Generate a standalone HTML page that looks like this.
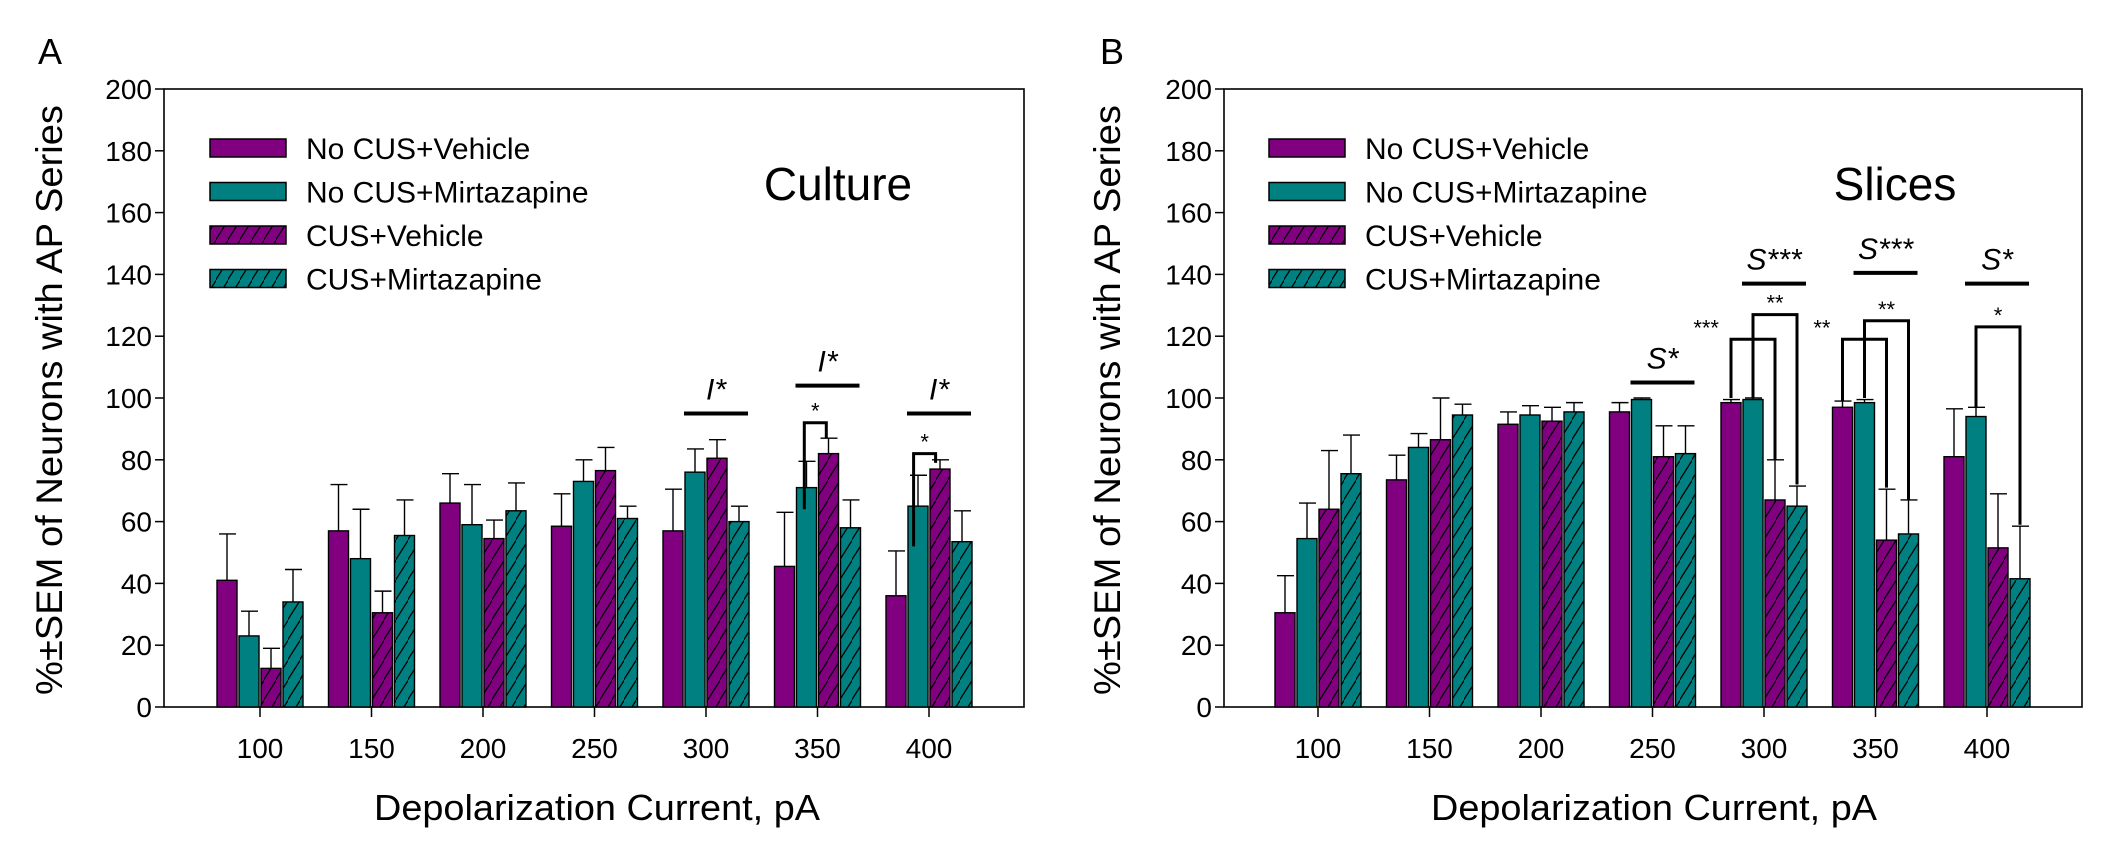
<!DOCTYPE html>
<html><head><meta charset="utf-8"><style>
html,body{margin:0;padding:0;background:#fff;}
svg{display:block;font-family:"Liberation Sans",Arial,sans-serif;}
</style></head><body>
<svg id="fig" width="2102" height="853" viewBox="0 0 2102 853" xmlns="http://www.w3.org/2000/svg">
<defs>
<pattern id="hatchP" patternUnits="userSpaceOnUse" width="12" height="20"><rect width="12" height="20" fill="#800080"/><path d="M-1,21 L13,-1" stroke="#000" stroke-width="1.3"/></pattern>
<pattern id="hatchT" patternUnits="userSpaceOnUse" width="12" height="20"><rect width="12" height="20" fill="#008080"/><path d="M-1,21 L13,-1" stroke="#000" stroke-width="1.3"/></pattern>
</defs>
</svg>
<script>
const categories = [100,150,200,250,300,350,400];
const seriesNames = ["No CUS+Vehicle","No CUS+Mirtazapine","CUS+Vehicle","CUS+Mirtazapine"];
const yTicks = [0,20,40,60,80,100,120,140,160,180,200];
// Panel A (Culture)
const aNoCusVeh = [41,57,66,58.5,57,45.5,36];
const aNoCusVehErr = [15,15,9.5,10.5,13.5,17.5,14.5];
const aNoCusMir = [23,48,59,73,76,71,65];
const aNoCusMirErr = [8,16,13,7,7.5,8.5,10];
const aCusVeh = [12.5,30.5,54.5,76.5,80.5,82,77];
const aCusVehErr = [6.5,7,6,7.5,6,5,3];
const aCusMir = [34,55.5,63.5,61,60,58,53.5];
const aCusMirErr = [10.5,11.5,9,4,5,9,10];
// Panel B (Slices)
const bNoCusVeh = [30.5,73.5,91.5,95.5,98.5,97,81];
const bNoCusVehErr = [12,8,4,3,1,2,15.5];
const bNoCusMir = [54.5,84,94.5,99.5,99.5,98.5,94];
const bNoCusMirErr = [11.5,4.5,3,0.5,0.5,1,3];
const bCusVeh = [64,86.5,92.5,81,67,54,51.5];
const bCusVehErr = [19,13.5,4.5,10,13,16.5,17.5];
const bCusMir = [75.5,94.5,95.5,82,65,56,41.5];
const bCusMirErr = [12.5,3.5,3,9,6.5,11,17];
// annotations: [categoryIndex, leftBar, rightBar, label, lineValue]
const aSigLines = [[4,"I*",95],[5,"I*",104],[6,"I*",95]];
const aBrackets = [[5,0.9,1.9,64,92,87,"*"],[6,0.8,1.8,52,82,79,"*"]];
const bSigLines = [[3,"S*",105],[4,"S***",137],[5,"S***",140.5],[6,"S*",137]];
const bBrackets = [[4,0,2,100,119,80,"***"],[4,1,3,100,127,72,"**"],[5,0,2,99,119,71,"**"],[5,1,3,100,125,67,"**"],[6,1,3,97,123,59,"*"]];

const NS="http://www.w3.org/2000/svg";
const svg=document.getElementById('fig');
function mk(tag,attrs,parent,text){const e=document.createElementNS(NS,tag);for(const k in attrs)e.setAttribute(k,attrs[k]);if(text!==undefined)e.textContent=text;(parent||svg).appendChild(e);return e;}

function panel(cfg){
  const g=mk('g',{});
  
  
  const L=cfg.left,R=cfg.right,T=89,B=707;
  const y=v=>B-(v/200)*(B-T);
  const xc=i=>cfg.x0+i*111.5;
  const bx=(i,k)=>xc(i)+(k-1.5)*22;
  // frame
  const fr=mk('rect',{x:L,y:T,width:R-L,height:B-T,fill:'none',stroke:'#000','stroke-width':1.6},g);
  
  // y ticks
  yTicks.forEach(t=>{
    mk('line',{x1:L-9,x2:L,y1:y(t),y2:y(t),stroke:'#000','stroke-width':1.5},g);
    const tl=mk('text',{x:L-12,y:y(t)+10,'font-size':28,'text-anchor':'end'},g,String(t));
    
  });
  categories.forEach((c,i)=>{
    mk('line',{x1:xc(i),x2:xc(i),y1:B,y2:B+10,stroke:'#000','stroke-width':1.5},g);
    const tl=mk('text',{x:xc(i),y:758,'font-size':28,'text-anchor':'middle'},g,String(c));
    
  });
  const fills=['#800080','#008080','url(#hatchP)','url(#hatchT)'];
  cfg.series.forEach((s,k)=>{
    s.v.forEach((v,i)=>{
      const x=bx(i,k);
      const top=y(v),et=y(v+s.e[i]);
      mk('line',{x1:x,x2:x,y1:top,y2:et,stroke:'#000','stroke-width':1.4},g);
      mk('line',{x1:x-8,x2:x+9,y1:et,y2:et,stroke:'#000','stroke-width':1.4},g);
      const r=mk('rect',{x:x-10,y:top,width:20,height:B-top,fill:fills[k],stroke:'#000','stroke-width':1.4},g);
      
      
    });
  });
  // sig lines
  cfg.sig.forEach(s=>{
    const cx=xc(s[0])+10;
    mk('line',{x1:cx-32,x2:cx+32,y1:y(s[2]),y2:y(s[2]),stroke:'#000','stroke-width':4},g);
    const t=mk('text',{x:cx,y:y(s[2])-14,'font-size':30,'font-style':'italic','text-anchor':'middle'},g,s[1]);
    
  });
  cfg.br.forEach(b=>{
    const x1=bx(b[0],b[1]),x2=bx(b[0],b[2]);
    mk('path',{d:`M${x1},${y(b[3])} L${x1},${y(b[4])} L${x2},${y(b[4])} L${x2},${y(b[5])}`,fill:'none',stroke:'#000','stroke-width':3},g);
    const tx=b[6].length>1?x1-12:(x1+x2)/2;
    const t=mk('text',{x:tx,y:y(b[4])-4,'font-size':22,'text-anchor':b[6].length>1?'end':'middle'},g,b[6]);
    if(b[6].length>1&&b[1]===1){t.setAttribute('x',(x1+x2)/2);t.setAttribute('text-anchor','middle');}
    
  });
  // legend
  seriesNames.forEach((n,k)=>{
    const ly=148+k*43.5;
    const sw=mk('rect',{x:cfg.legX,y:ly-9,width:76,height:18,fill:fills[k],stroke:'#000','stroke-width':1.5},g);
    
    const lt=mk('text',{x:cfg.legX+96,y:ly+11,'font-size':30},g,n);
    
  });
  const ti=mk('text',{x:cfg.titleX,y:200,'font-size':46,'text-anchor':'middle'},g,cfg.title);
  
  const pl=mk('text',{x:cfg.labX,y:64,'font-size':36},g,cfg.lab);
  
  const xt=mk('text',{x:cfg.xtX,y:820,'font-size':36,'text-anchor':'middle',textLength:446,lengthAdjust:'spacingAndGlyphs'},g,'Depolarization Current, pA');
  
  const yt=mk('text',{x:0,y:0,'font-size':37,'text-anchor':'middle',textLength:590,lengthAdjust:'spacingAndGlyphs',transform:`translate(${cfg.ytX},400) rotate(-90)`},g,'%±SEM of Neurons with AP Series');
  
}
panel({name:'panel-a-culture',left:164,right:1024,x0:260,legX:210,titleX:838,title:'Culture',labX:38,lab:'A',xtX:597,ytX:62,
  series:[{v:aNoCusVeh,e:aNoCusVehErr},{v:aNoCusMir,e:aNoCusMirErr},{v:aCusVeh,e:aCusVehErr},{v:aCusMir,e:aCusMirErr}],
  sig:aSigLines,br:aBrackets});
panel({name:'panel-b-slices',left:1224,right:2082,x0:1318,legX:1269,titleX:1895,title:'Slices',labX:1100,lab:'B',xtX:1654,ytX:1120,
  series:[{v:bNoCusVeh,e:bNoCusVehErr},{v:bNoCusMir,e:bNoCusMirErr},{v:bCusVeh,e:bCusVehErr},{v:bCusMir,e:bCusMirErr}],
  sig:bSigLines,br:bBrackets});
</script>
</body></html>
